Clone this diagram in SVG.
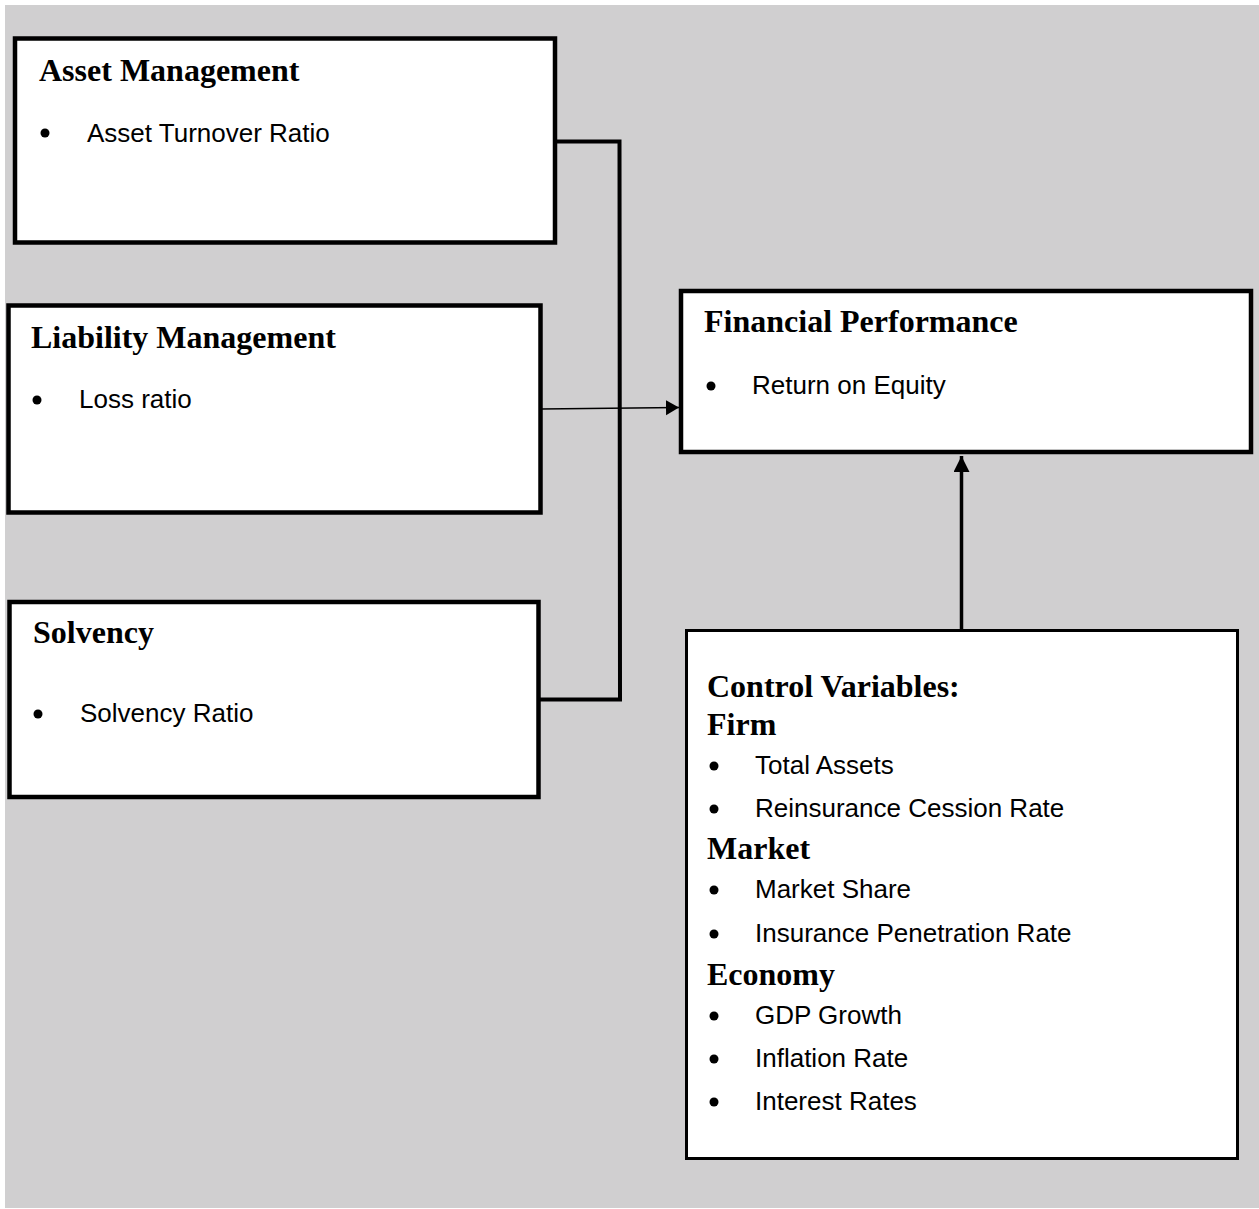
<svg xmlns="http://www.w3.org/2000/svg" width="1259" height="1209" viewBox="0 0 1259 1209">
<style>
.box{fill:#ffffff;stroke:#000000;stroke-width:4.5}
.box2{fill:#ffffff;stroke:#000000;stroke-width:3}
.title{font-family:"Liberation Serif","Times New Roman",serif;font-weight:bold;font-size:32px;fill:#000}
.item{font-family:"Liberation Sans",Arial,sans-serif;font-size:26px;fill:#000}
.conn{fill:none;stroke:#000;stroke-width:4;stroke-linejoin:miter}
</style>
<defs>
<marker id="ah1" markerUnits="userSpaceOnUse" markerWidth="14" markerHeight="16" refX="13" refY="7.5" orient="auto">
<path d="M0,0 L13,7.5 L0,15 Z" fill="#000"/>
</marker>
<marker id="ah2" markerUnits="userSpaceOnUse" markerWidth="18" markerHeight="18" refX="16" refY="8" orient="auto">
<path d="M0,0 L16,8 L0,16 Z" fill="#000"/>
</marker>
</defs>
<rect x="0" y="0" width="1259" height="1209" fill="#ffffff"/>
<rect x="5" y="5" width="1254" height="1203" fill="#d0cfd0"/>

<g id="connectors">
<polyline class="conn" points="555,141.5 619.5,141.5 620,699.5 539,699.5"/>
<line x1="541" y1="409" x2="679" y2="407.5" stroke="#000" stroke-width="1.5" marker-end="url(#ah1)"/>
<line x1="961.5" y1="630" x2="961.5" y2="456" stroke="#000" stroke-width="3.5" marker-end="url(#ah2)"/>
</g>

<g id="asset-management">
<rect class="box" x="15" y="38.5" width="540" height="204"/>
<text class="title" x="39" y="81">Asset Management</text>
<circle cx="45" cy="133" r="4.5"/>
<text class="item" x="87" y="142">Asset Turnover Ratio</text>
</g>

<g id="liability-management">
<rect class="box" x="8.5" y="305.5" width="532" height="207"/>
<text class="title" x="31" y="348">Liability Management</text>
<circle cx="37" cy="400" r="4.5"/>
<text class="item" x="79" y="408">Loss ratio</text>
</g>

<g id="solvency">
<rect class="box" x="9.5" y="602" width="529" height="195"/>
<text class="title" x="33" y="643">Solvency</text>
<circle cx="38" cy="714" r="4.5"/>
<text class="item" x="80" y="722">Solvency Ratio</text>
</g>

<g id="financial-performance">
<rect class="box" x="681" y="291" width="570" height="161"/>
<text class="title" x="704" y="332">Financial Performance</text>
<circle cx="711" cy="386" r="4.5"/>
<text class="item" x="752" y="394">Return on Equity</text>
</g>

<g id="control-variables">
<rect class="box2" x="686.5" y="630.5" width="551" height="528"/>
<text class="title" x="707" y="697" font-size="31.5">Control Variables:</text>
<text class="title" x="707" y="735">Firm</text>
<circle cx="714" cy="766" r="4.5"/>
<text class="item" x="755" y="774">Total Assets</text>
<circle cx="714" cy="809" r="4.5"/>
<text class="item" x="755" y="817">Reinsurance Cession Rate</text>
<text class="title" x="707" y="859">Market</text>
<circle cx="714" cy="890" r="4.5"/>
<text class="item" x="755" y="898">Market Share</text>
<circle cx="714" cy="934" r="4.5"/>
<text class="item" x="755" y="942">Insurance Penetration Rate</text>
<text class="title" x="707" y="985">Economy</text>
<circle cx="714" cy="1016" r="4.5"/>
<text class="item" x="755" y="1024">GDP Growth</text>
<circle cx="714" cy="1059" r="4.5"/>
<text class="item" x="755" y="1067">Inflation Rate</text>
<circle cx="714" cy="1102" r="4.5"/>
<text class="item" x="755" y="1110">Interest Rates</text>
</g>
</svg>
